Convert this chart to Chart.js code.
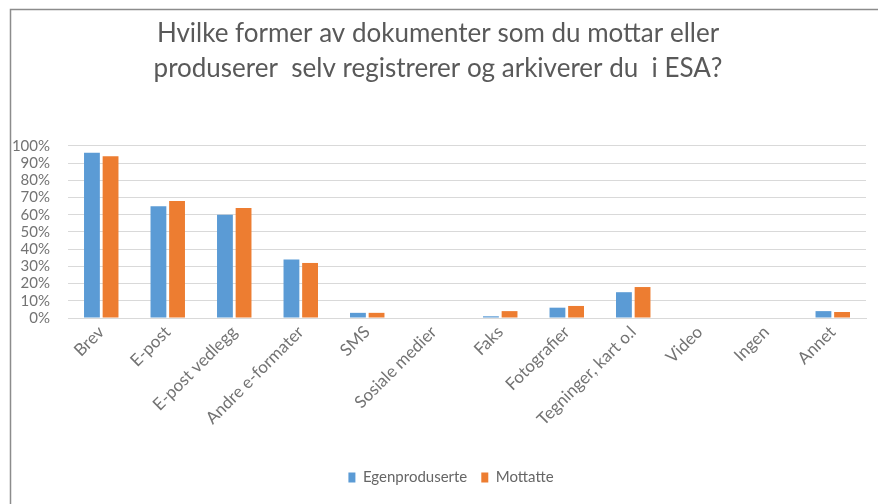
<!DOCTYPE html>
<html>
<head>
<meta charset="utf-8">
<script src="https://cdn.jsdelivr.net/npm/chart.js@4/dist/chart.umd.min.js"></script>
<style>
html,body{margin:0;padding:0;background:#fff;}
canvas{display:block;}
</style>
</head>
<body>
<canvas id="c" width="878" height="504"></canvas>
<script>
const titleLines = ["Hvilke former av dokumenter som du mottar eller", "produserer  selv registrerer og arkiverer du  i ESA?"];
const categories = ["Brev", "E-post", "E-post vedlegg", "Andre e-formater", "SMS", "Sosiale medier", "Faks", "Fotografier", "Tegninger, kart o.l", "Video", "Ingen", "Annet"];
const seriesNames = ["Egenproduserte", "Mottatte"];
const egenproduserte = [96, 65, 60, 34, 3, 0, 1, 6, 15, 0, 0, 4];
const mottatte = [94, 68, 64, 32, 3, 0, 4, 7, 18, 0, 0, 3.5];
const yTicks = [0, 10, 20, 30, 40, 50, 60, 70, 80, 90, 100];

const frame = {
  id: 'frame',
  beforeDraw(chart) {
    const ctx = chart.ctx;
    ctx.save();
    ctx.fillStyle = '#ffffff';
    ctx.fillRect(0, 0, chart.width, chart.height);
    ctx.strokeStyle = '#8c8c8c';
    ctx.lineWidth = 1.5;
    ctx.beginPath();
    ctx.moveTo(10.5, chart.height);
    ctx.lineTo(10.5, 9.5);
    ctx.lineTo(chart.width, 9.5);
    ctx.stroke();
    ctx.restore();
  }
};

const legendShift = {
  id: 'legendShift',
  afterLayout(chart) {
    if (chart.legend) { chart.legend.left += 13; chart.legend.right += 13; }
  }
};

new Chart(document.getElementById('c'), {
  type: 'bar',
  data: {
    labels: categories,
    datasets: [
      { label: seriesNames[0], data: egenproduserte, backgroundColor: '#5B9BD5', categoryPercentage: 0.56, barPercentage: 0.85 },
      { label: seriesNames[1], data: mottatte, backgroundColor: '#ED7D31', categoryPercentage: 0.56, barPercentage: 0.85 }
    ]
  },
  options: {
    responsive: false,
    animation: false,
    layout: { padding: { left: 10, right: 12, top: 0, bottom: 9 } },
    plugins: {
      title: {
        display: true,
        text: titleLines,
        color: '#595959',
        font: { family: 'Lato', size: 26, weight: 'normal', lineHeight: 1.346 },
        padding: { top: 16, bottom: 60 }
      },
      legend: {
        position: 'bottom',
        labels: {
          color: '#666666',
          font: { family: 'Lato', size: 15 },
          boxWidth: 7, boxHeight: 10, padding: 14
        }
      },
      tooltip: { enabled: false }
    },
    scales: {
      x: {
        afterFit(s) { s.height = 138; },
        grid: { display: false, drawTicks: false },
        border: { display: true, color: '#d9d9d9', width: 1 },
        ticks: {
          color: '#737373',
          font: { family: 'Lato', size: 17 },
          minRotation: 45, maxRotation: 45, padding: 4, autoSkip: false
        }
      },
      y: {
        min: 0, max: 100,
        afterFit(s) { s.width = 58; },
        afterBuildTicks(s) { s.ticks = yTicks.map(v => ({ value: v })); },
        grid: { color: '#d9d9d9', lineWidth: 1, drawTicks: false },
        border: { display: false },
        ticks: {
          color: '#737373',
          font: { family: 'Lato', size: 15 },
          padding: 18,
          autoSkip: false,
          callback: v => v + '%'
        }
      }
    }
  },
  plugins: [frame, legendShift]
});
</script>
</body>
</html>
